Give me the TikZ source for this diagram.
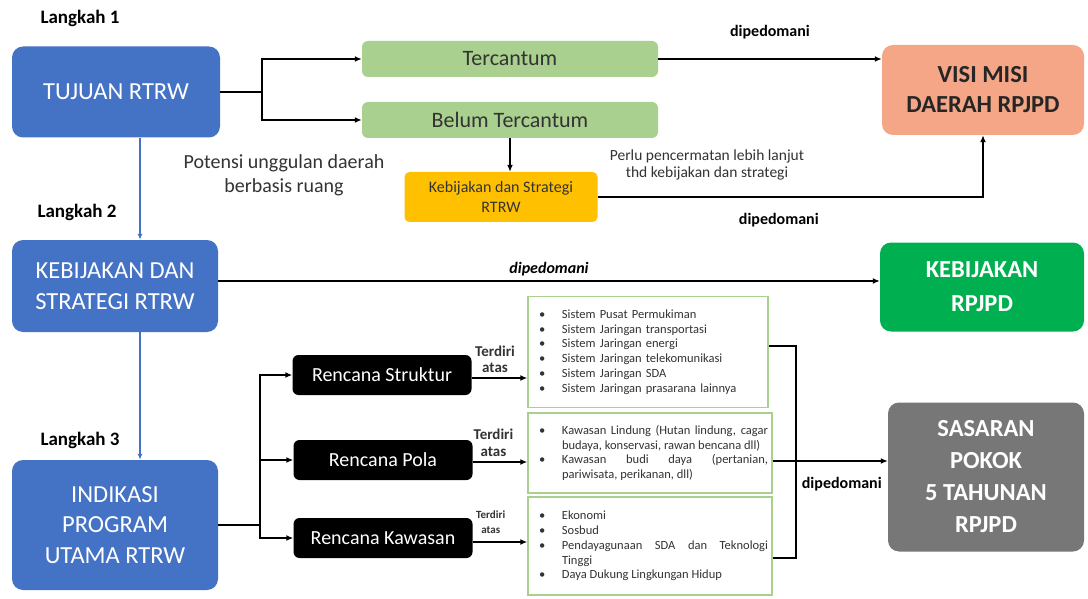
\documentclass[tikz,border=0pt]{standalone}
\usepackage{fontspec}
\setmainfont{Carlito}
\usepackage{tikz}
\usepackage{xcolor}
\definecolor{rtrwBlue}{HTML}{4472C4}
\definecolor{rtrwLeaf}{HTML}{A9D08E}
\definecolor{rtrwSalmon}{HTML}{F4A686}
\definecolor{rtrwGold}{HTML}{FFC000}
\definecolor{rtrwKeb}{HTML}{00B050}
\definecolor{rtrwGrey}{HTML}{777777}
\definecolor{rtrwText}{HTML}{333333}
\usetikzlibrary{arrows.meta}
\newcommand{\rtrwitem}[1]{\hyphenpenalty=10000\exhyphenpenalty=10000\hangindent=30pt\hangafter=1\noindent\makebox[30pt][l]{\hspace{7pt}\textbullet}#1\par}
\tikzset{
  stepbox/.style={rectangle, rounded corners=11pt, fill=rtrwBlue, text=white, align=center,
    inner sep=0pt, minimum width=206pt, font=\fontsize{24.5}{30.5}\selectfont},
  goalbox/.style={rectangle, rounded corners=11pt, text=white, align=center, inner sep=0pt,
    font=\bfseries\fontsize{24.5}{32}\selectfont},
  statbox/.style={rectangle, rounded corners=6pt, fill=rtrwLeaf, text=rtrwText, inner sep=0pt,
    minimum width=296pt, minimum height=36pt, font=\fontsize{22}{24}\selectfont},
  planbox/.style={rectangle, rounded corners=6pt, fill=black, text=white, inner sep=0pt,
    minimum width=179pt, minimum height=40pt, font=\fontsize{20}{22}\selectfont},
  listbox/.style={rectangle, draw=rtrwLeaf, line width=1.5pt, fill=white, text=rtrwText,
    inner xsep=4pt, inner ysep=0pt, text width=236pt, font=\fontsize{12.5}{14.8}\selectfont},
  steplabel/.style={anchor=west, text=black, font=\bfseries\fontsize{19}{21}\selectfont},
  note/.style={text=rtrwText, align=center},
  guide/.style={text=black, font=\bfseries\fontsize{16}{18}\selectfont},
  conn/.style={draw=black, line width=2pt},
  flow/.style={conn, -{Latex[length=7pt,width=6pt]}},
  stepline/.style={draw=rtrwBlue, line width=1.6pt, -{Latex[length=6pt,width=5pt]}}
}
\begin{document}
\begin{tikzpicture}[x=1pt, y=-1pt]
  \useasboundingbox (0,0) rectangle (1088,599);
  \fill[white] (0,0) rectangle (1088,599);
  \node[steplabel] (lk1) at (37,18) {Langkah 1};
  \node[steplabel] (lk2) at (34,212) {Langkah 2};
  \node[steplabel] (lk3) at (37,440) {Langkah 3};
  \node[stepbox, minimum width=208pt, minimum height=91pt] (tuj) at (116,92) {TUJUAN RTRW};
  \node[stepbox, minimum height=92pt] (keb) at (115,286) {KEBIJAKAN DAN\\STRATEGI RTRW};
  \node[stepbox, minimum height=130pt] (ind) at (115,525) {INDIKASI\\PROGRAM\\UTAMA RTRW};
  \node[statbox] (terc) at (510,59) {Tercantum};
  \node[statbox] (belum) at (510,120) {Belum Tercantum};
  \node[rectangle, rounded corners=5pt, fill=rtrwGold, text=rtrwText, align=center, inner sep=0pt,
    minimum width=193pt, minimum height=50pt, font=\fontsize{16}{20}\selectfont] (kebst) at (501,197)
    {Kebijakan dan Strategi\\RTRW};
  \node[goalbox, fill=rtrwSalmon, text=black!85, minimum width=202pt, minimum height=90pt,
    font=\bfseries\fontsize{24.5}{30}\selectfont] (visi) at (983,90) {VISI MISI\\DAERAH RPJPD};
  \node[goalbox, fill=rtrwKeb, minimum width=204pt, minimum height=89pt, font=\bfseries\fontsize{24.5}{34}\selectfont] (kebr) at (982,287)
    {KEBIJAKAN\\RPJPD};
  \node[goalbox, fill=rtrwGrey, minimum width=196pt, minimum height=149pt] (sas) at (986,477)
    {SASARAN\\POKOK\\5 TAHUNAN\\RPJPD};
  \node[planbox] (rs) at (382,375) {Rencana Struktur};
  \node[planbox] (rp) at (383,460) {Rencana Pola};
  \node[planbox] (rk) at (383,538) {Rencana Kawasan};
  \node[listbox, align=left, minimum height=111pt, text width=232pt] (l1) at (648,352) {%
    \rtrwitem{Sistem Pusat Permukiman}
    \rtrwitem{Sistem Jaringan transportasi}
    \rtrwitem{Sistem Jaringan energi}
    \rtrwitem{Sistem Jaringan telekomunikasi}
    \rtrwitem{Sistem Jaringan SDA}
    \rtrwitem{Sistem Jaringan prasarana lainnya}};
  \node[listbox, align=justify, minimum height=80pt] (l2) at (650,453) {%
    \rtrwitem{Kawasan Lindung (Hutan lindung, cagar budaya, konservasi, rawan bencana dll)}
    \rtrwitem{Kawasan budi daya (pertanian, pariwisata, perikanan, dll)}};
  \node[listbox, align=justify, minimum height=98pt] (l3) at (650,546) {%
    \rtrwitem{Ekonomi}
    \rtrwitem{Sosbud}
    \rtrwitem{Pendayagunaan SDA dan Teknologi Tinggi}
    \rtrwitem{Daya Dukung Lingkungan Hidup}};
  \node[note, font=\fontsize{20}{24}\selectfont] (potensi) at (284,175) {Potensi unggulan daerah\\berbasis ruang};
  \node[note, font=\fontsize{15.5}{17}\selectfont] (perlu) at (707,165) {Perlu pencermatan lebih lanjut\\thd kebijakan dan strategi};
  \draw[conn] (tuj.east) -- ++(42,0) coordinate (b1);
  \draw[flow] (b1) |- (terc.west);
  \draw[flow] (b1) |- (belum.west);
  \draw[flow] (terc.east) -- node[midway, above=16pt, guide] {dipedomani} (visi.west |- terc.east);
  \draw[flow] (belum.south) -- (belum.south |- kebst.north);
  \draw[flow] (kebst.east) -| node[pos=0.235, below=12pt, guide] {dipedomani} (visi.south);
  \draw[stepline] ([xshift=24pt]tuj.south) -- ([xshift=25pt]keb.north);
  \draw[stepline] ([xshift=25pt]keb.south) -- ([xshift=25pt]ind.north);
  \draw[flow] ([yshift=5pt]keb.east) -- node[midway, above=1pt, guide, font=\bfseries\itshape\fontsize{16}{18}\selectfont] {dipedomani} ([yshift=5pt]kebr.west |- keb.east);
  \draw[conn] (ind.east) -- ++(42,0) coordinate (b2);
  \draw[flow] (b2) |- (rs.west);
  \draw[flow] (b2) |- (rp.west);
  \draw[flow] (b2) |- (rk.west);
  \draw[flow] ([yshift=-3pt]rs.east) -- node[pos=0.42, above=1pt, align=center, text=rtrwText, font=\bfseries\fontsize{15}{16}\selectfont] {Terdiri\\atas} ([yshift=-3pt]l1.west |- rs.east);
  \draw[flow] ([yshift=-2pt]rp.east) -- node[pos=0.38, above=1pt, align=center, text=rtrwText, font=\bfseries\fontsize{15}{17}\selectfont] {Terdiri\\atas} ([yshift=-2pt]l2.west |- rp.east);
  \draw[flow] ([yshift=-4pt]rk.east) -- node[pos=0.33, above=4pt, align=center, text=rtrwText, font=\bfseries\fontsize{11}{15}\selectfont] {Terdiri\\atas} ([yshift=-4pt]l3.west |- rk.east);
  \draw[conn] ([yshift=6pt]l1.east) -- ++(27,0) coordinate (b3) -- (b3 |- 0,558) -- (l3.east |- 0,558);
  \draw[flow] ([yshift=-8pt]l2.east) -- node[pos=0.6, below=12pt, guide] {dipedomani} ([yshift=-8pt]sas.west |- l2.east);
\end{tikzpicture}
\end{document}
